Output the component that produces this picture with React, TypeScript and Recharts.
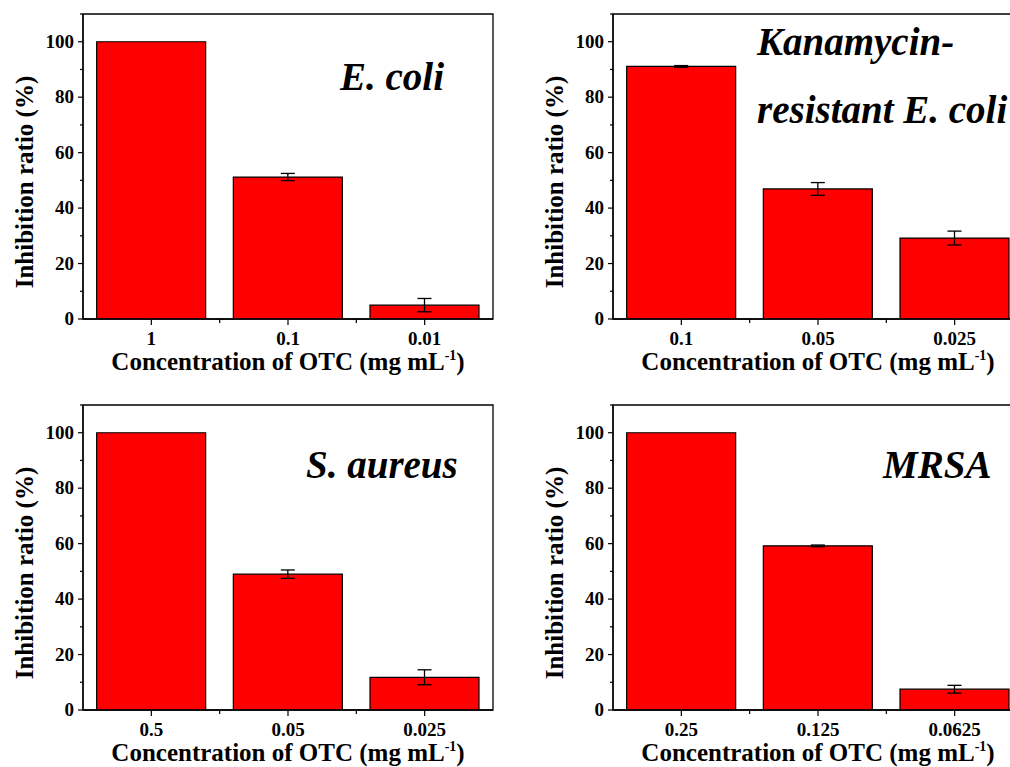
import React from 'react'
import { BarChart, Bar, XAxis, YAxis, ErrorBar, ReferenceArea } from 'recharts'

// OTC concentrations (mg mL-1) and inhibition ratios (%) per strain
const ecoliDoses = ['1', '0.1', '0.01']
const ecoliRatio = [100, 51.2, 5.0]
const ecoliErr = [0, 1.3, 2.4]

const kanDoses = ['0.1', '0.05', '0.025']
const kanRatio = [91.1, 46.9, 29.2]
const kanErr = [0.3, 2.3, 2.5]

const aureusDoses = ['0.5', '0.05', '0.025']
const aureusRatio = [100, 49.0, 11.8]
const aureusErr = [0, 1.5, 2.7]

const mrsaDoses = ['0.25', '0.125', '0.0625']
const mrsaRatio = [100, 59.2, 7.5]
const mrsaErr = [0, 0.3, 1.4]

const yTicks = [0, 10, 20, 30, 40, 50, 60, 70, 80, 90, 100, 110]

const FONT = "'Liberation Serif', 'DejaVu Serif', serif"
const W = 505
const H = 383
const PLOT_W = 410

const YTick = (props: any) => {
  const { x, y, payload } = props
  const v = payload.value
  const major = v % 20 === 0
  return (
    <g>
      <line x1={x - (major ? 5 : 3)} x2={x} y1={y} y2={y} stroke="#000" strokeWidth={1.2} />
      {major && v <= 100 && (
        <text x={x - 9} y={y + 6} textAnchor="end" fontSize={19} fontWeight="bold" fontFamily={FONT} fill="#000">
          {v}
        </text>
      )}
    </g>
  )
}

const makeXTick = (count: number) => (props: any) => {
  const { x, y, payload, index } = props
  const band = PLOT_W / count
  return (
    <g>
      <line x1={x} x2={x} y1={y} y2={y + 6} stroke="#000" strokeWidth={1.2} />
      {index < count - 1 && (
        <line x1={x + band / 2} x2={x + band / 2} y1={y} y2={y + 4} stroke="#000" strokeWidth={1.2} />
      )}
      <text x={x} y={y + 26} textAnchor="middle" fontSize={19} fontWeight="bold" fontFamily={FONT} fill="#000">
        {payload.value}
      </text>
    </g>
  )
}

const XLabel = (props: any) => {
  const { viewBox } = props
  return (
    <text
      x={viewBox.x + viewBox.width / 2}
      y={viewBox.y + 51}
      textAnchor="middle"
      fontSize={25}
      fontWeight="bold"
      fontFamily={FONT}
      fill="#000"
    >
      Concentration of OTC (mg mL
      <tspan fontSize={14} dy={-10}>-1</tspan>
      <tspan dy={10}>)</tspan>
    </text>
  )
}

const YLabel = () => (
  <text
    x={33}
    y={182}
    transform="rotate(-90, 33, 182)"
    textAnchor="middle"
    fontSize={25}
    fontWeight="bold"
    fontFamily={FONT}
    fill="#000"
  >
    Inhibition ratio (%)
  </text>
)

type PanelProps = {
  left: number
  top: number
  doses: string[]
  ratio: number[]
  err: number[]
  title: string[]
  titleX: number
  titleY: number[]
}

function Panel({ left, top, doses, ratio, err, title, titleX, titleY }: PanelProps) {
  const rows = doses.map((d, i) => ({ dose: d, ratio: ratio[i], err: err[i] }))
  return (
    <div style={{ position: 'absolute', left, top, width: W, height: H }}>
      <BarChart
        width={W}
        height={H}
        data={rows}
        margin={{ top: 14, right: 12, bottom: 0, left: 0 }}
        barCategoryGap="10%"
      >
        <XAxis
          dataKey="dose"
          height={64}
          axisLine={{ stroke: '#000', strokeWidth: 1.3 }}
          tickLine={false}
          tickSize={0}
          tickMargin={0}
          tick={makeXTick(doses.length)}
          interval={0}
          label={<XLabel />}
        />
        <YAxis
          width={83}
          domain={[0, 110]}
          ticks={yTicks}
          interval={0}
          allowDataOverflow
          axisLine={{ stroke: '#000', strokeWidth: 1.3 }}
          tickLine={false}
          tickSize={0}
          tickMargin={0}
          tick={<YTick />}
          label={<YLabel />}
        />
        <ReferenceArea y1={0} y2={110} fill="none" stroke="#000" strokeWidth={1.3} ifOverflow="visible" />
        <Bar dataKey="ratio" fill="#FF0000" stroke="#000" strokeWidth={1.2} isAnimationActive={false}>
          <ErrorBar dataKey="err" width={7} stroke="#000" strokeWidth={1.3} />
        </Bar>
      </BarChart>
      <svg width={W} height={H} style={{ position: 'absolute', left: 0, top: 0, pointerEvents: 'none' }}>
        {title.map((t, i) => (
          <text
            key={t}
            x={titleX}
            y={titleY[i]}
            fontSize={39}
            fontWeight="bold"
            fontStyle="italic"
            fontFamily={FONT}
            fill="#000"
          >
            {t}
          </text>
        ))}
      </svg>
    </div>
  )
}

export default function App() {
  return (
    <div
      style={{
        position: 'absolute',
        left: 0,
        top: 0,
        width: 1010,
        height: 767,
        overflow: 'hidden',
        background: '#fff',
      }}
    >
      <Panel left={0} top={0} doses={ecoliDoses} ratio={ecoliRatio} err={ecoliErr} title={['E. coli']} titleX={340} titleY={[90]} />
      <Panel
        left={530}
        top={0}
        doses={kanDoses}
        ratio={kanRatio}
        err={kanErr}
        title={['Kanamycin-', 'resistant E. coli']}
        titleX={227}
        titleY={[55, 123]}
      />
      <Panel left={0} top={391} doses={aureusDoses} ratio={aureusRatio} err={aureusErr} title={['S. aureus']} titleX={306} titleY={[87]} />
      <Panel left={530} top={391} doses={mrsaDoses} ratio={mrsaRatio} err={mrsaErr} title={['MRSA']} titleX={353} titleY={[87]} />
    </div>
  )
}
